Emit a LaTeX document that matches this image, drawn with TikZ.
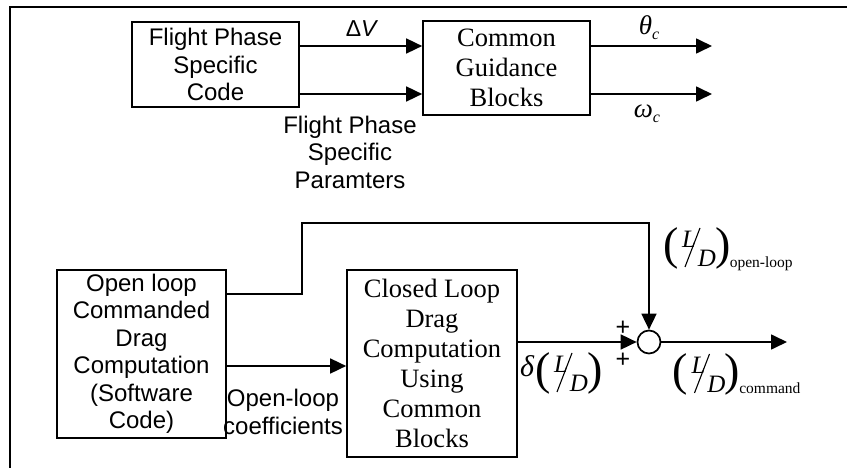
\documentclass[tikz,border=0pt]{standalone}
\usepackage{fontspec}
\setmainfont{Liberation Serif}
\newfontfamily\arialf{Liberation Sans}
\newfontfamily\tnr{Liberation Serif}
\usetikzlibrary{arrows.meta}
\begin{document}
\begin{tikzpicture}[x=1pt,y=-1pt,line width=1.7pt,
  blk/.style={draw,rectangle,inner sep=0pt,align=center},
  sanstxt/.style={font=\arialf\fontsize{24}{27.5}\selectfont},
  seriftxt/.style={font=\tnr\fontsize{26.5}{30}\selectfont},
  arr/.style={-{Triangle[length=16pt,width=15pt]}},
  lbl/.style={inner sep=0pt,align=center},
  paren/.style={lbl,font=\tnr\fontsize{46}{46}\selectfont},
  ldlet/.style={lbl,font=\tnr\itshape\fontsize{25}{25}\selectfont},
  pics/ld/.style={code={
    \node[paren] (-lp) at (-26,0) {(};
    \node[ldlet] (-L) at (-8,-9) {L};
    \node[ldlet] (-D) at (10,10) {D};
    \node[paren] (-rp) at (26,0) {)};
    \draw[line width=1.1pt] (3,-20) -- (-12,19);
    \node[lbl,anchor=base west,font=\tnr\fontsize{15.5}{15.5}\selectfont] (-sub) at (32,19) {#1};
  }}]
\useasboundingbox (0,0) rectangle (847,468);
% frame
\coordinate (fr0) at (10,7);
\coordinate (fr1) at (847,7);
\coordinate (fr2) at (10,468);
\draw[line width=2.6pt] (fr1) -- (fr0) -- (fr2);
% top part
\node[blk,sanstxt,minimum width=167pt,minimum height=85pt] (b1) at (215.5,64.5) {Flight Phase\\Specific\\Code};
\node[blk,seriftxt,minimum width=167pt,minimum height=94pt] (b2) at (506.5,68) {Common\\Guidance\\Blocks};
\coordinate (h1) at (0,46);
\coordinate (h2) at (0,94);
\coordinate (o1) at (712,46);
\coordinate (o2) at (712,94);
\draw[arr] (b1.east |- h1) -- (b2.west |- h1);
\draw[arr] (b1.east |- h2) -- (b2.west |- h2);
\draw[arr] (b2.east |- o1) -- (o1);
\draw[arr] (b2.east |- o2) -- (o2);
\node[lbl,font=\arialf\fontsize{23}{23}\selectfont] (dv) at (362,29) {Δ\textit{V}};
\node[lbl,font=\tnr\itshape\fontsize{27}{27}\selectfont] (th) at (649,28) {θ\raisebox{-5pt}{\fontsize{16}{16}\selectfont c}};
\node[lbl,font=\tnr\itshape\fontsize{27}{27}\selectfont] (om) at (647,114) {ω\raisebox{-5pt}{\fontsize{16}{16}\selectfont c}};
\node[lbl,sanstxt] (par) at (350,152) {Flight Phase\\Specific\\Paramters};
% bottom part
\node[blk,sanstxt,minimum width=169pt,minimum height=168pt] (b3) at (141.5,354) {Open loop\\Commanded\\Drag\\Computation\\(Software\\Code)};
\node[blk,seriftxt,minimum width=170pt,minimum height=187pt] (b4) at (432,363.5) {Closed Loop\\Drag\\Computation\\Using\\Common\\Blocks};
\node[draw,circle,minimum size=23pt,inner sep=0pt] (sum) at (649,342) {};
\coordinate (fb1) at (302,294);
\coordinate (fb2) at (302,223);
\coordinate (h3) at (0,366);
\coordinate (o3) at (787,342);
\draw[arr] (b3.east |- fb1) -- (fb1) -- (fb2) -- (fb2 -| sum) -- (sum.north);
\draw[arr] (b3.east |- h3) -- (b4.west |- h3);
\draw[arr] (b4.east |- sum) -- (sum.west);
\draw[arr] (sum.east) -- (o3);
\node[lbl,sanstxt] (olc) at (283,412) {Open-loop\\coefficients};
\node[lbl,font=\arialf\fontsize{25}{25}\selectfont] (p1) at (623,328) {+};
\node[lbl,font=\arialf\fontsize{25}{25}\selectfont] (p2) at (623,360) {+};
\pic (ldo) at (697,248) {ld=open-loop};
\node[lbl,font=\tnr\itshape\fontsize{30}{30}\selectfont] (dl) at (527,366) {δ};
\pic (ldd) at (569,373) {ld=};
\pic (ldc) at (706.5,374) {ld=command};
\end{tikzpicture}
\end{document}
